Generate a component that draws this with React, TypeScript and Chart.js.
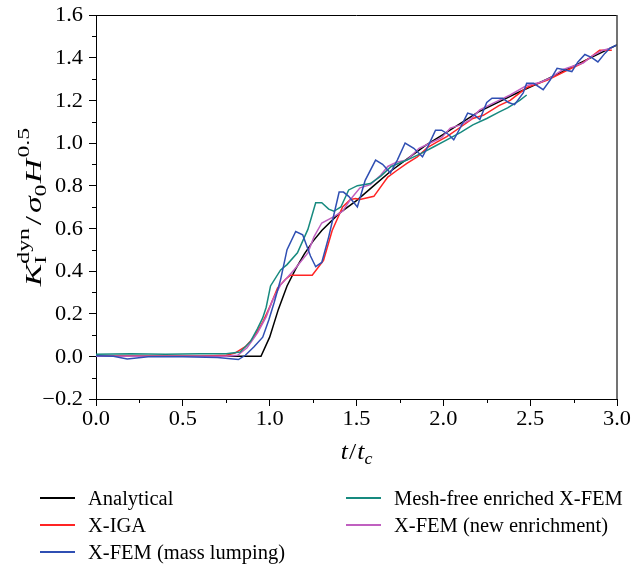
import React, { useEffect, useRef } from "react";
import { Chart, registerables } from "chart.js";

Chart.register(...registerables);

// ---------------- data ----------------
const analyticalT = [0, 0.95, 1.0, 1.05, 1.1, 1.15, 1.2, 1.25, 1.3, 1.4, 1.5, 1.6, 1.7, 1.8, 1.9, 2.0, 2.2, 2.4, 2.6, 2.8, 3.0];
const analyticalK = [0, 0, 0.09, 0.22, 0.33, 0.41, 0.48, 0.54, 0.59, 0.67, 0.73, 0.80, 0.87, 0.93, 0.99, 1.04, 1.145, 1.225, 1.30, 1.38, 1.46];

const xigaT = [0, 0.3, 0.6, 0.75, 0.8, 0.86, 0.91, 0.96, 1.005, 1.045, 1.09, 1.12, 1.245, 1.31, 1.36, 1.42, 1.465, 1.495, 1.52, 1.6, 1.68, 1.73, 1.79, 1.85, 1.91, 1.965, 2.02, 2.1, 2.17, 2.23, 2.32, 2.385, 2.48, 2.6, 2.71, 2.79, 2.845, 2.9, 2.97];
const xigaK = [0, 0, 0, 0.005, 0.015, 0.045, 0.09, 0.16, 0.24, 0.32, 0.36, 0.38, 0.38, 0.45, 0.59, 0.70, 0.735, 0.74, 0.735, 0.75, 0.84, 0.87, 0.905, 0.935, 0.98, 1.005, 1.03, 1.075, 1.115, 1.13, 1.175, 1.20, 1.26, 1.295, 1.34, 1.37, 1.40, 1.435, 1.435];

const lumpT = [0, 0.1, 0.18, 0.3, 0.5, 0.7, 0.82, 0.86, 0.91, 0.96, 0.995, 1.025, 1.063, 1.1, 1.15, 1.19, 1.235, 1.265, 1.3, 1.34, 1.38, 1.4, 1.425, 1.455, 1.505, 1.55, 1.61, 1.65, 1.695, 1.735, 1.78, 1.83, 1.88, 1.915, 1.955, 1.99, 2.03, 2.06, 2.1, 2.14, 2.18, 2.21, 2.25, 2.28, 2.34, 2.375, 2.41, 2.46, 2.48, 2.52, 2.575, 2.615, 2.655, 2.69, 2.74, 2.775, 2.815, 2.855, 2.89, 2.93, 2.96, 3.0];
const lumpK = [0.003, 0, -0.012, -0.002, -0.002, -0.005, -0.015, 0.005, 0.045, 0.09, 0.17, 0.25, 0.36, 0.5, 0.585, 0.57, 0.47, 0.42, 0.44, 0.56, 0.7, 0.77, 0.77, 0.75, 0.7, 0.825, 0.92, 0.9, 0.86, 0.92, 1.0, 0.975, 0.935, 0.99, 1.06, 1.06, 1.04, 1.015, 1.075, 1.14, 1.13, 1.11, 1.19, 1.21, 1.21, 1.19, 1.18, 1.235, 1.28, 1.28, 1.25, 1.295, 1.35, 1.345, 1.335, 1.38, 1.415, 1.4, 1.38, 1.42, 1.445, 1.46];

const meshFreeT = [0, 0.2, 0.4, 0.6, 0.75, 0.83, 0.89, 0.93, 0.96, 0.98, 1.005, 1.063, 1.1, 1.16, 1.22, 1.265, 1.3, 1.34, 1.37, 1.41, 1.455, 1.505, 1.58, 1.64, 1.7, 1.79, 1.87, 1.94, 2.02, 2.1, 2.17, 2.25, 2.32, 2.37, 2.44, 2.48];
const meshFreeK = [0.01, 0.012, 0.01, 0.012, 0.012, 0.02, 0.07, 0.13, 0.18, 0.23, 0.33, 0.405, 0.43, 0.485, 0.595, 0.72, 0.72, 0.69, 0.68, 0.7, 0.78, 0.8, 0.81, 0.845, 0.89, 0.92, 0.95, 0.98, 1.015, 1.05, 1.085, 1.115, 1.145, 1.165, 1.2, 1.225];

const newEnrT = [0, 0.3, 0.6, 0.75, 0.815, 0.87, 0.93, 0.98, 1.015, 1.063, 1.14, 1.22, 1.255, 1.3, 1.37, 1.42, 1.465, 1.52, 1.58, 1.64, 1.68, 1.73, 1.79, 1.86, 1.925, 1.99, 2.04, 2.1, 2.155, 2.21, 2.27, 2.385, 2.48, 2.56, 2.615, 2.69, 2.745, 2.805, 2.86, 2.92, 2.97];
const newEnrK = [0, 0, 0, 0, 0.005, 0.04, 0.11, 0.185, 0.26, 0.335, 0.405, 0.485, 0.56, 0.625, 0.655, 0.68, 0.735, 0.79, 0.805, 0.85, 0.89, 0.91, 0.92, 0.975, 1.0, 1.025, 1.07, 1.085, 1.11, 1.155, 1.18, 1.225, 1.27, 1.285, 1.305, 1.345, 1.36, 1.375, 1.41, 1.435, 1.445];

const seriesNames = ["Analytical", "X-IGA", "X-FEM (mass lumping)", "Mesh-free enriched X-FEM", "X-FEM (new enrichment)"];
const seriesColors = ["#000000", "#ff2424", "#2f4fb3", "#178a7f", "#c060c0"];

const xTickValues = [0, 0.5, 1, 1.5, 2, 2.5, 3];
const xMinorTicks = [0.25, 0.75, 1.25, 1.75, 2.25, 2.75];
const yMinorTicks = [-0.1, 0.1, 0.3, 0.5, 0.7, 0.9, 1.1, 1.3, 1.5];

const SERIF = "'Liberation Serif', 'Times New Roman', serif";
const TEXT_STRETCH = 1.12;

const zip = (t: number[], k: number[]) => t.map((x, i) => ({ x, y: k[i] }));

const decorPlugin = {
  id: "decor",
  afterDraw(chart: any) {
    const { ctx, chartArea, scales } = chart;
    const xs = scales.x;
    const ys = scales.y;
    ctx.save();
    // frame top & right
    ctx.strokeStyle = "#000";
    ctx.lineWidth = 1;
    ctx.beginPath();
    ctx.moveTo(chartArea.left, chartArea.top + 0.5);
    ctx.lineTo(chartArea.right, chartArea.top + 0.5);
    ctx.stroke();
    ctx.strokeStyle = "#444";
    ctx.lineWidth = 1.5;
    ctx.beginPath();
    ctx.moveTo(chartArea.right, chartArea.top);
    ctx.lineTo(chartArea.right, chartArea.bottom);
    ctx.stroke();
    // minor ticks
    ctx.strokeStyle = "#000";
    ctx.lineWidth = 1;
    ctx.beginPath();
    xMinorTicks.forEach((v) => {
      const p = Math.round(xs.getPixelForValue(v)) + 0.5;
      ctx.moveTo(p, chartArea.bottom);
      ctx.lineTo(p, chartArea.bottom + 4);
    });
    yMinorTicks.forEach((v) => {
      const p = Math.round(ys.getPixelForValue(v)) + 0.5;
      ctx.moveTo(chartArea.left, p);
      ctx.lineTo(chartArea.left - 4, p);
    });
    ctx.stroke();

    const widthOf = (p: any) => {
      if (p.stack) {
        return Math.max(
          ...p.stack.map((s: any) => {
            ctx.font = s.f;
            return ctx.measureText(s.t).width;
          })
        );
      }
      ctx.font = p.f;
      return ctx.measureText(p.t).width + (p.pad || 0) * 2;
    };

    // y title
    const yb = 24;
    const ysm = 17;
    const pieces: any[] = [
      { t: "K", f: `italic ${yb}px ${SERIF}`, dy: 0 },
      { stack: [{ t: "I", f: `${ysm}px ${SERIF}`, dy: 5 }, { t: "dyn", f: `${ysm}px ${SERIF}`, dy: -12 }] },
      { t: "/", f: `${yb}px ${SERIF}`, dy: 0, pad: 2 },
      { t: "σ", f: `italic ${yb}px ${SERIF}`, dy: 0 },
      { t: "0", f: `${ysm}px ${SERIF}`, dy: 5 },
      { t: "H", f: `italic ${yb}px ${SERIF}`, dy: 0, pad: 1 },
      { t: "0.5", f: `${ysm}px ${SERIF}`, dy: -12 },
    ];
    const total = pieces.reduce((a, p) => a + widthOf(p), 0);
    const ystretch = 1.4;
    const cy = (chartArea.top + chartArea.bottom) / 2;
    ctx.translate(41, cy);
    ctx.rotate(-Math.PI / 2);
    ctx.scale(ystretch, 1);
    ctx.fillStyle = "#000";
    ctx.textBaseline = "alphabetic";
    ctx.textAlign = "left";
    let x = -total / 2;
    pieces.forEach((p) => {
      const w = widthOf(p);
      if (p.stack) {
        p.stack.forEach((s: any) => {
          ctx.font = s.f;
          ctx.fillText(s.t, x, s.dy);
        });
      } else {
        ctx.font = p.f;
        ctx.fillText(p.t, x + (p.pad || 0), p.dy);
      }
      x += w;
    });
    ctx.setTransform(1, 0, 0, 1, 0, 0);

    // x title
    const big = 23;
    const small = 16;
    const xp: any[] = [
      { t: "t", f: `italic ${big}px ${SERIF}`, dy: 0 },
      { t: "/", f: `${big}px ${SERIF}`, dy: 0, pad: 1 },
      { t: "t", f: `italic ${big}px ${SERIF}`, dy: 0 },
      { t: "c", f: `italic ${small}px ${SERIF}`, dy: 5 },
    ];
    const xt = xp.reduce((a, p) => a + widthOf(p), 0) * TEXT_STRETCH;
    const cx = (chartArea.left + chartArea.right) / 2 - xt / 2;
    const by = chartArea.bottom + 60;
    ctx.translate(cx, by);
    ctx.scale(TEXT_STRETCH, 1);
    let xx = 0;
    xp.forEach((p) => {
      ctx.font = p.f;
      ctx.fillText(p.t, xx + (p.pad || 0), p.dy);
      xx += widthOf(p);
    });
    ctx.setTransform(1, 0, 0, 1, 0, 0);

    // tick labels
    ctx.font = `20px ${SERIF}`;
    ctx.fillStyle = "#000";
    xs.ticks.forEach((tk: any) => {
      const label = Number(tk.value).toFixed(1);
      const p = xs.getPixelForValue(tk.value);
      ctx.setTransform(TEXT_STRETCH, 0, 0, 1, p, chartArea.bottom + 11);
      ctx.textAlign = "center";
      ctx.textBaseline = "top";
      ctx.fillText(label, 0, 0);
    });
    ys.ticks.forEach((tk: any) => {
      const n = Math.round(Number(tk.value) * 10) / 10;
      const s = Math.abs(n).toFixed(1);
      const label = n < 0 ? "\u2212" + s : s;
      const p = ys.getPixelForValue(tk.value);
      ctx.setTransform(TEXT_STRETCH, 0, 0, 1, chartArea.left - 13, p);
      ctx.textAlign = "right";
      ctx.textBaseline = "middle";
      ctx.fillText(label, 0, 1);
    });
    ctx.restore();
  },
};

export default function App() {
  const canvasRef = useRef<HTMLCanvasElement | null>(null);

  useEffect(() => {
    document.body.style.margin = "0";
    const canvas = canvasRef.current;
    if (!canvas) return;
    const tSets = [analyticalT, xigaT, lumpT, meshFreeT, newEnrT];
    const kSets = [analyticalK, xigaK, lumpK, meshFreeK, newEnrK];
    const datasets = seriesNames.map((name, i) => ({
      label: name,
      data: zip(tSets[i], kSets[i]),
      borderColor: seriesColors[i],
      backgroundColor: seriesColors[i],
      borderWidth: 1.5,
      pointRadius: 0,
      tension: 0,
      fill: false,
    }));
    const ordered = [datasets[2], datasets[3], datasets[4], datasets[1], datasets[0]];
    const chart = new Chart(canvas, {
      type: "line",
      data: { datasets: ordered },
      options: {
        animation: false,
        responsive: false,
        maintainAspectRatio: false,
        layout: { padding: { top: 15, right: 14, left: 0, bottom: 0 } },
        plugins: { legend: { display: false }, tooltip: { enabled: false }, title: { display: false } },
        scales: {
          x: {
            type: "linear",
            min: 0,
            max: 3,
            afterFit: (s: any) => {
              s.height = 168;
            },
            afterBuildTicks: (s: any) => {
              s.ticks = xTickValues.map((v) => ({ value: v }));
            },
            ticks: { display: false, maxRotation: 0 },
            grid: { drawOnChartArea: false, tickLength: 7, color: "#000", tickColor: "#000" },
            border: { color: "#000", width: 1 },
          },
          y: {
            type: "linear",
            min: -0.2,
            max: 1.6,
            afterFit: (s: any) => {
              s.width = 96;
            },
            ticks: { display: false, stepSize: 0.2 },
            grid: { drawOnChartArea: false, tickLength: 7, color: "#000", tickColor: "#000" },
            border: { color: "#000", width: 1 },
          },
        },
      },
      plugins: [decorPlugin],
    });
    return () => chart.destroy();
  }, []);

  const legendRows = [
    [0, 3],
    [1, 4],
    [2, -1],
  ];

  return (
    <div style={{ position: "relative", width: 631, height: 567, overflow: "hidden", background: "#fff" }}>
      <canvas ref={canvasRef} width={631} height={567} style={{ position: "absolute", left: 0, top: 0 }} />
      {legendRows.map((row, r) =>
        row.map((idx, c) =>
          idx < 0 ? null : (
            <div
              key={`${r}-${c}`}
              style={{
                position: "absolute",
                left: c === 0 ? 40 : 346,
                top: 485 + r * 27,
                height: 26,
                display: "flex",
                alignItems: "center",
                fontFamily: SERIF,
                fontSize: 20.5,
                color: "#000",
                whiteSpace: "nowrap",
              }}
            >
              <span style={{ display: "inline-block", width: 35, height: 1.5, background: seriesColors[idx], marginRight: 13 }} />
              <span>{seriesNames[idx]}</span>
            </div>
          )
        )
      )}
    </div>
  );
}
